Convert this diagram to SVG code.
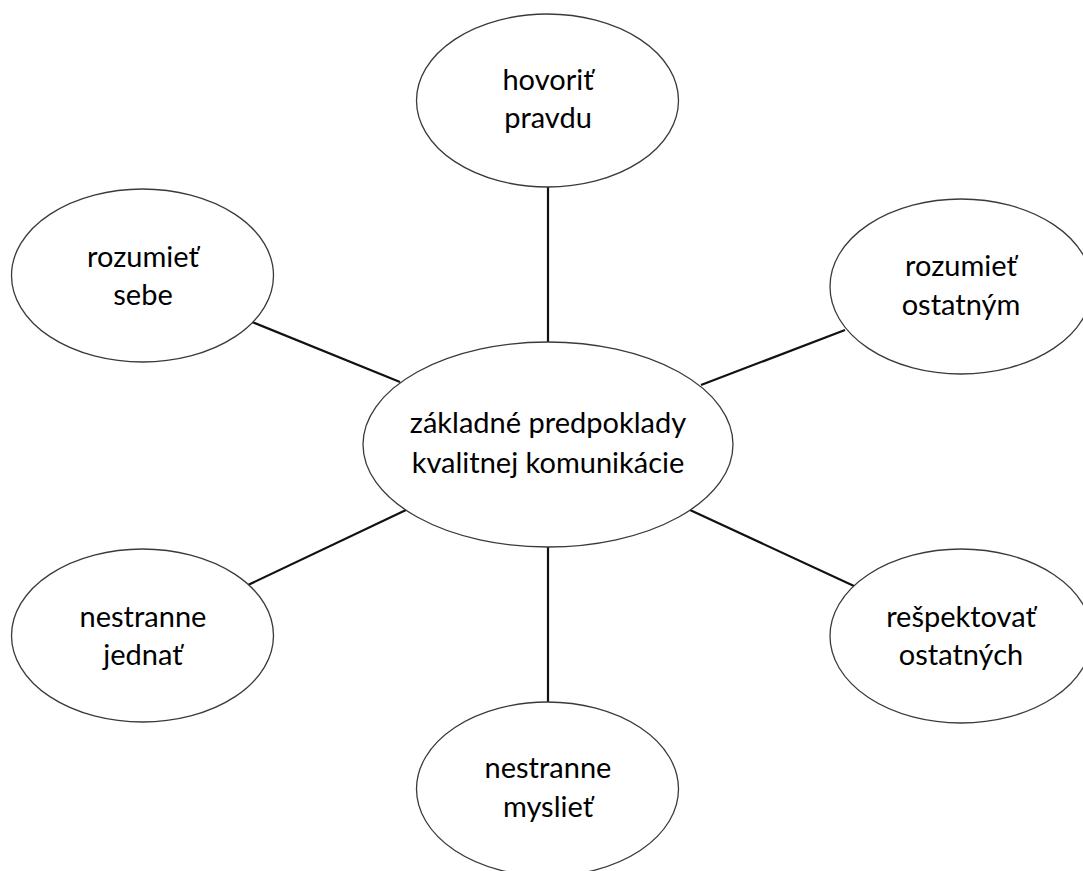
<svg xmlns="http://www.w3.org/2000/svg" width="1083" height="871" viewBox="0 0 1083 871">
<style>
.node ellipse{fill:#fff;stroke:#3a3a3a;stroke-width:1.3}
.node text{font-family:Lato,"Open Sans",sans-serif;font-size:29px;fill:#000;text-anchor:middle}
#connectors line{stroke:#111;stroke-width:2.2}
</style>
<rect width="1083" height="871" fill="#fff"/>
<g id="connectors">
<line x1="548" y1="187" x2="548" y2="342"/>
<line x1="252" y1="322" x2="400" y2="382"/>
<line x1="845" y1="330" x2="701" y2="385"/>
<line x1="248" y1="585" x2="406" y2="510"/>
<line x1="690" y1="510" x2="854" y2="586"/>
<line x1="548" y1="547" x2="548" y2="702"/>
</g>
<g id="n-center" class="node">
<ellipse cx="548" cy="444.5" rx="185" ry="102.5"/>
<text x="548" y="433">základné predpoklady</text>
<text x="548" y="473">kvalitnej komunikácie</text>
</g>
<g id="n-top" class="node">
<ellipse cx="547.5" cy="100.5" rx="131" ry="86.5"/>
<text x="548" y="90">hovoriť</text>
<text x="548" y="128">pravdu</text>
</g>
<g id="n-left-up" class="node">
<ellipse cx="142.5" cy="275.5" rx="131" ry="86.5"/>
<text x="143" y="267">rozumieť</text>
<text x="143" y="305">sebe</text>
</g>
<g id="n-right-up" class="node">
<ellipse cx="961" cy="286.5" rx="131" ry="87.5"/>
<text x="961" y="276">rozumieť</text>
<text x="961" y="315">ostatným</text>
</g>
<g id="n-left-down" class="node">
<ellipse cx="142.5" cy="635.5" rx="131" ry="86.5"/>
<text x="143" y="627">nestranne</text>
<text x="143" y="665">jednať</text>
</g>
<g id="n-right-down" class="node">
<ellipse cx="961" cy="636" rx="131" ry="87"/>
<text x="961" y="627">rešpektovať</text>
<text x="961" y="665">ostatných</text>
</g>
<g id="n-bottom" class="node">
<ellipse cx="547.5" cy="789" rx="131" ry="87"/>
<text x="548" y="778">nestranne</text>
<text x="548" y="817">myslieť</text>
</g>
</svg>
